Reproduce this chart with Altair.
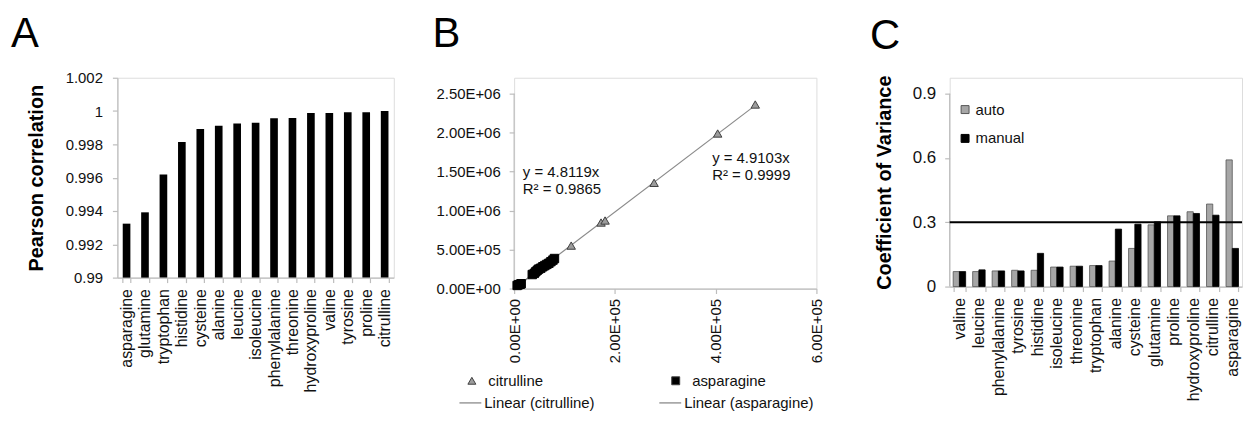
import altair as alt
import pandas as pd

FONT = "Liberation Sans"

# ---------------- Panel A data ----------------
a_amino = ["asparagine", "glutamine", "tryptophan", "histidine", "cysteine", "alanine",
           "leucine", "isoleucine", "phenylalanine", "threonine", "hydroxyproline",
           "valine", "tyrosine", "proline", "citrulline"]
a_pearson = [0.99324, 0.99392, 0.99619, 0.99815, 0.99892, 0.99912, 0.99926, 0.99930,
             0.99957, 0.99959, 0.99989, 0.99989, 0.99993, 0.99993, 1.00000]
a_ticks = [0.99, 0.992, 0.994, 0.996, 0.998, 1.0, 1.002]

# ---------------- Panel B data ----------------
cit_x = [113300, 172500, 180500, 277800, 404000, 478600]
cit_y = [551000, 847000, 873000, 1356000, 1989000, 2361000]
asn_x = [6000, 9000, 12000, 14000, 36000, 40000, 43000, 46000, 49000, 53000, 57000,
         61000, 65000, 69000, 73000, 77000, 80000]
asn_y = [40000, 50000, 55000, 62000, 180000, 195000, 215000, 235000, 250000, 262000,
         280000, 295000, 310000, 325000, 345000, 365000, 385000]
fit_names = ["Linear (citrulline)", "Linear (asparagine)"]
fit_slopes = [4.9103, 4.8119]
fit_r2 = [0.9999, 0.9865]
fit_xmax = [478600, 80000]
b_xticks = [0, 200000, 400000, 600000]
b_yticks = [0, 500000, 1000000, 1500000, 2000000, 2500000]

# ---------------- Panel C data ----------------
c_amino = ["valine", "leucine", "phenylalanine", "tyrosine", "histidine", "isoleucine",
           "threonine", "tryptophan", "alanine", "cysteine", "glutamine", "proline",
           "hydroxyproline", "citrulline", "asparagine"]
c_auto = [0.070, 0.070, 0.073, 0.076, 0.076, 0.091, 0.095, 0.098, 0.119, 0.178, 0.288,
          0.330, 0.349, 0.385, 0.591]
c_manual = [0.070, 0.078, 0.073, 0.073, 0.155, 0.091, 0.095, 0.098, 0.268, 0.291, 0.302,
            0.330, 0.341, 0.333, 0.178]
c_methods = ["auto", "manual"]
cv_threshold = [0.3]
c_ticks = [0, 0.3, 0.6, 0.9]

AX_GRAY = "#bdbdbd"

# plot heights (B and C start lower than A in the original; extra space is kept
# above their top tick so that all plot origins line up)
H_A, H_B, H_C = 201, 212, 210
B_TOP, C_TOP = 2500000, 0.9
B_MAX = B_TOP * H_B / (H_B - 16)
C_MAX = C_TOP * H_C / (H_C - 16)


def ax(**kw):
    base = dict(domainColor=AX_GRAY, tickColor=AX_GRAY, labelColor="#111111",
                labelFont=FONT, titleFont=FONT, titleColor="#000000", grid=False,
                tickSize=5, domainWidth=1.2, tickWidth=1.2)
    base.update(kw)
    return alt.Axis(**base)


def letter(txt, dx, dy):
    return alt.Chart(pd.DataFrame({"t": [txt]})).mark_text(
        align="left", baseline="alphabetic", fontSize=42, font=FONT, color="#000000"
    ).encode(text="t:N", x=alt.value(dx), y=alt.value(dy))


# ---------------- Panel A ----------------
dfA = pd.DataFrame({"amino": a_amino, "r": a_pearson})
barsA = alt.Chart(dfA).mark_bar(color="#000000").encode(
    x=alt.X("amino:N", sort=a_amino, title=None,
            scale=alt.Scale(paddingInner=0.585, paddingOuter=0.29),
            axis=ax(labelAngle=-90, labelFontSize=16, tickBand="extent", labelPadding=6)),
    y=alt.Y("r:Q", title="Pearson correlation",
            scale=alt.Scale(domain=[0.99, 1.002], zero=False, nice=False),
            axis=ax(values=a_ticks, format=".3~f", labelFontSize=15, labelPadding=10,
                    titleFontSize=20, titleFontWeight="bold", titlePadding=19)),
    y2=alt.datum(0.99),
)
chartA = alt.layer(barsA, letter("A", -107, -31)).properties(width=278, height=H_A)

# ---------------- Panel B ----------------
sci = "replace(format(datum.value, '.2e'), 'e+', 'E+0')"
dfP = pd.DataFrame({
    "x": cit_x + asn_x,
    "y": cit_y + asn_y,
    "series": ["citrulline"] * len(cit_x) + ["asparagine"] * len(asn_x),
})
xB = alt.X("x:Q", title=None, scale=alt.Scale(domain=[0, 600000], nice=False),
           axis=ax(values=b_xticks, labelExpr=sci, labelAngle=-90, labelFontSize=15,
                   labelPadding=5))
yB = alt.Y("y:Q", title=None, scale=alt.Scale(domain=[0, B_MAX], nice=False),
           axis=ax(values=b_yticks, labelExpr=sci, labelFontSize=15, labelPadding=9,
                   domain=False))

leg_pts = alt.Legend(title=None, orient="none", legendX=-50, legendY=297, direction="horizontal",
                     labelFont=FONT, labelFontSize=15, labelColor="#111111", labelOffset=9,
                     columnPadding=125, symbolSize=64, symbolStrokeColor="#404040",
                     symbolStrokeWidth=1)
series_dom = ["citrulline", "asparagine"]
points = alt.Chart(dfP).mark_point(filled=True, opacity=1, size=72, strokeWidth=1).encode(
    x=xB, y=yB,
    shape=alt.Shape("series:N", scale=alt.Scale(domain=series_dom,
                                                range=["triangle-up", "square"]),
                    legend=leg_pts),
    color=alt.Color("series:N", scale=alt.Scale(domain=series_dom,
                                                range=["#9c9c9c", "#000000"]),
                    legend=leg_pts),
    stroke=alt.condition(alt.datum.series == "citrulline", alt.value("#404040"),
                         alt.value("#000000")),
)

dfF = pd.DataFrame({"fit": fit_names, "slope": fit_slopes, "xmax": fit_xmax})
leg_fit = alt.Legend(title=None, orient="none", legendX=-56, legendY=315, direction="horizontal",
                     labelFont=FONT, labelFontSize=15, labelColor="#111111", labelOffset=2,
                     columnPadding=62, symbolType="stroke", symbolSize=484,
                     symbolStrokeWidth=1.3)
fits = alt.Chart(dfF).transform_calculate(
    x0="0", y0="0", y1="datum.slope * datum.xmax"
).mark_rule(strokeWidth=1.2).encode(
    x=alt.X("x0:Q"), x2="xmax:Q", y=alt.Y("y0:Q"), y2="y1:Q",
    color=alt.Color("fit:N", scale=alt.Scale(domain=fit_names, range=["#8a8a8a", "#8a8a8a"]),
                    legend=leg_fit),
)
axisB = alt.Chart(pd.DataFrame({"v": [0]})).mark_rule(color=AX_GRAY, strokeWidth=1.2).encode(
    x=alt.datum(0), y=alt.datum(0), y2=alt.datum(B_TOP))

eq_text = [f"y = {s}x\nR\u00b2 = {r}" for s, r in zip(fit_slopes, fit_r2)]


def eq_layer(txt, xpos, ypos):
    return alt.Chart(pd.DataFrame({"t": [txt]})).mark_text(
        align="left", baseline="alphabetic", lineBreak="\n", fontSize=15, font=FONT,
        lineHeight=17, color="#111111"
    ).encode(x=alt.datum(xpos), y=alt.datum(ypos), text="t:N")


chartB = alt.layer(
    axisB, fits, points,
    eq_layer(eq_text[0], 393000, 1607000),
    eq_layer(eq_text[1], 17200, 1429000),
    letter("B", -82, -31),
).resolve_scale(color="independent", shape="independent").properties(width=304, height=H_B)

# ---------------- Panel C ----------------
dfC = pd.DataFrame({
    "amino": c_amino * 2,
    "method": ["auto"] * len(c_amino) + ["manual"] * len(c_amino),
    "cv": c_auto + c_manual,
})
leg_c = alt.Legend(title=None, orient="none", legendX=8, legendY=24.5, direction="vertical",
                   labelFont=FONT, labelFontSize=15, labelColor="#111111", labelOffset=3,
                   rowPadding=13, symbolType="square", symbolSize=64,
                   symbolStrokeColor="#555555", symbolStrokeWidth=1)
yC = alt.Y("cv:Q", title="Coefficient of Variance",
           scale=alt.Scale(domain=[0, C_MAX], nice=False),
           axis=ax(values=c_ticks, format=".1~f", labelFontSize=17, labelPadding=9,
                   titleFontSize=20, titleFontWeight="bold", titlePadding=18, domain=False))
barsC = alt.Chart(dfC).mark_bar(strokeWidth=0.8).encode(
    x=alt.X("amino:N", sort=c_amino, title=None,
            scale=alt.Scale(paddingInner=0.36, paddingOuter=0.18),
            axis=ax(labelAngle=-90, labelFontSize=16, tickBand="extent", labelPadding=6)),
    xOffset=alt.XOffset("method:N", sort=c_methods, scale=alt.Scale(paddingInner=0)),
    y=yC,
    color=alt.Color("method:N", scale=alt.Scale(domain=c_methods, range=["#a6a6a6", "#000000"]),
                    legend=leg_c),
    stroke=alt.Stroke("method:N", scale=alt.Scale(domain=c_methods, range=["#555555", "#000000"]),
                      legend=None),
)
ruleC = alt.Chart(pd.DataFrame({"t": cv_threshold})).mark_rule(
    color="#000000", strokeWidth=2).encode(y=alt.Y("t:Q"))
axisC = alt.Chart(pd.DataFrame({"v": [0]})).mark_rule(color=AX_GRAY, strokeWidth=1.2).encode(
    x=alt.value(0), y=alt.datum(0), y2=alt.datum(C_TOP))

chartC = alt.layer(axisC, barsC, ruleC, letter("C", -80, -29)).properties(width=294, height=H_C)

indep = dict(color="independent", shape="independent", stroke="independent")
chart = alt.hconcat(
    alt.hconcat(chartA, chartB, spacing=37).resolve_scale(**indep),
    chartC, spacing=44,
).resolve_scale(**indep).properties(
    padding={"left": 2, "top": 3, "right": 0, "bottom": 0}
).configure_view(stroke=None).configure(background="white")

chart.save("out.html", embed_options={"renderer": "svg", "actions": False})
